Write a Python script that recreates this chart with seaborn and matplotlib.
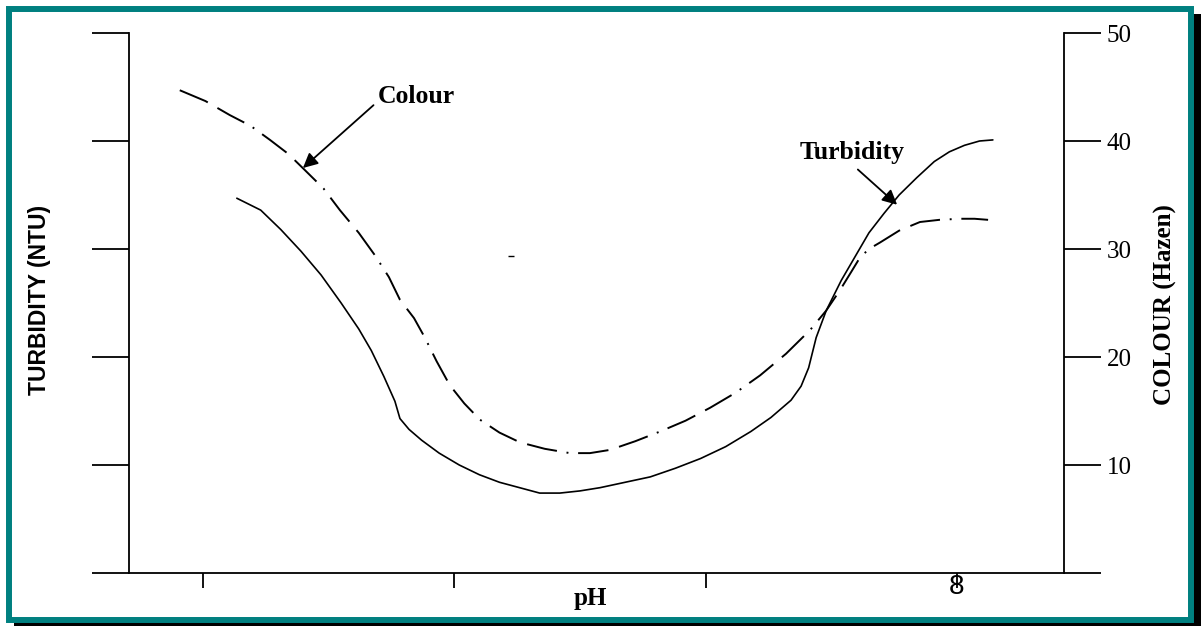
import numpy as np
import pandas as pd
import seaborn as sns
import matplotlib
matplotlib.use("Agg")
import matplotlib.pyplot as plt
from matplotlib.patches import Rectangle

# pH values and readings
turb_ph = [5.135, 5.23, 5.31, 5.39, 5.47, 5.55, 5.62, 5.67, 5.72, 5.764, 5.784, 5.82, 5.87, 5.94, 6.02,
           6.10, 6.18, 6.26, 6.34, 6.42, 6.50, 6.58, 6.68, 6.78, 6.88, 6.98, 7.08, 7.18, 7.26, 7.34,
           7.38, 7.41, 7.44, 7.48, 7.54, 7.60, 7.65, 7.71, 7.77, 7.84, 7.91, 7.97, 8.03, 8.09, 8.143]
turb_val = [34.7, 33.6, 31.8, 29.8, 27.6, 25.0, 22.6, 20.6, 18.2, 15.9, 14.3, 13.3, 12.3, 11.1, 10.0,
            9.1, 8.4, 7.9, 7.4, 7.4, 7.6, 7.9, 8.4, 8.9, 9.7, 10.6, 11.7, 13.1, 14.4, 16.0,
            17.3, 19.0, 21.8, 24.3, 27.1, 29.5, 31.5, 33.3, 35.0, 36.6, 38.1, 39.0, 39.6, 40.0, 40.1]

col_ph = [4.908, 5.01, 5.107, 5.19, 5.267, 5.34, 5.406, 5.48, 5.545, 5.62, 5.685, 5.74, 5.784, 5.84,
          5.883, 5.93, 5.982, 6.04, 6.102, 6.18, 6.261, 6.36, 6.46, 6.54, 6.62, 6.72, 6.819, 6.92,
          7.018, 7.12, 7.217, 7.32, 7.416, 7.48, 7.535, 7.58, 7.614, 7.65, 7.694, 7.77, 7.853, 7.93,
          8.012, 8.07, 8.124]
col_val = [44.7, 43.7, 42.4, 41.4, 40.1, 38.8, 37.3, 35.6, 33.6, 31.5, 29.4, 27.4, 25.3, 23.6,
           21.8, 19.6, 17.4, 15.7, 14.2, 13.0, 12.1, 11.5, 11.1, 11.1, 11.4, 12.2, 13.1, 14.1,
           15.3, 16.7, 18.3, 20.3, 22.5, 24.3, 26.2, 27.9, 29.2, 30.0, 30.6, 31.7, 32.5, 32.7,
           32.8, 32.8, 32.7]

xticks = [5, 6, 7, 8]
xtick_labels = ["", "", "", "8"]
yticks = [0, 10, 20, 30, 40, 50]
right_labels = ["", "10", "20", "30", "40", "50"]

stray_ph = [6.226]
stray_val = [29.35]

sns.set_theme(style="white")
plt.rcParams["font.family"] = ["Liberation Serif", "DejaVu Serif"]
plt.rcParams["text.color"] = "black"
plt.rcParams["lines.scale_dashes"] = False

W, H = 1204, 626
fig = plt.figure(figsize=(W / 100, H / 100), dpi=100)

# framed border with drop shadow
fig.add_artist(Rectangle((14 / W, 0), (1201 - 14) / W, (626 - 14) / H, transform=fig.transFigure,
                         facecolor="black", edgecolor="none", zorder=-20))
fig.add_artist(Rectangle((9 / W, 6 / H), 1182 / W, 611 / H, transform=fig.transFigure,
                         facecolor="white", edgecolor="#008080", linewidth=4.3, zorder=-10))

ax = fig.add_axes([129 / W, 1 - 573 / H, (1064 - 129) / W, (573 - 33) / H])
ax.set_facecolor("none")

turb = pd.DataFrame({"pH": turb_ph, "val": turb_val})
col = pd.DataFrame({"pH": col_ph, "val": col_val})

sns.lineplot(data=turb, x="pH", y="val", ax=ax, color="black", linewidth=1.2, sort=False)
sns.lineplot(data=col, x="pH", y="val", ax=ax, color="black", linewidth=1.4, sort=False,
             linestyle=(0, (22, 8, 22, 7, 1.4, 7)))
ax.plot(stray_ph, stray_val, marker="_", color="black", markersize=4, linestyle="none")

ax.set_xlim(4.706, 8.426)
ax.set_ylim(0, 50)

for s in ["top", "right"]:
    ax.spines[s].set_visible(False)
for s in ["left", "bottom"]:
    ax.spines[s].set_color("black")
    ax.spines[s].set_linewidth(1.3)

ax.set_yticks(yticks)
ax.set_yticklabels([])
ax.tick_params(axis="y", direction="out", length=26.6, width=1.3, color="black", left=True)
ax.set_xticks(xticks)
ax.set_xticklabels(xtick_labels, fontfamily="Liberation Sans")
ax.tick_params(axis="x", direction="out", length=10.8, width=1.3, color="black", bottom=True,
               pad=-10, labelsize=20, labelcolor="black")

ax2 = ax.twinx()
ax2.set_ylim(0, 50)
for s in ["top", "left", "bottom"]:
    ax2.spines[s].set_visible(False)
ax2.spines["right"].set_color("black")
ax2.spines["right"].set_linewidth(1.3)
ax2.set_yticks(yticks)
ax2.set_yticklabels(right_labels)
ax2.tick_params(axis="y", direction="out", length=26.6, width=1.3, color="black", right=True,
                pad=4, labelsize=18, labelcolor="black")
ax2.grid(False)
ax.grid(False)

ax.set_xlabel("")
ax.set_ylabel("")
fig.text(40 / W, 1 - 300 / H, "TURBIDITY (NTU)", rotation=90, ha="center", va="center",
         fontfamily="Liberation Sans", fontweight="bold", fontsize=16.5, color="black")
fig.text(1165 / W, 1 - 305 / H, "COLOUR (Hazen)", rotation=90, ha="center", va="center",
         fontweight="bold", fontsize=18, color="black")
fig.text(590 / W, 1 - 599 / H, "pH", ha="center", va="center", fontweight="bold", fontsize=18,
         color="black")

ax.annotate("Colour", xy=(5.398, 37.5), xytext=(5.696, 44.1), ha="left", va="center",
            fontsize=18.5, fontweight="bold", color="black",
            arrowprops=dict(arrowstyle="-|>", color="black", lw=1.3, mutation_scale=22,
                            relpos=(0, 0.3), shrinkA=1, shrinkB=0))
ax.annotate("Turbidity", xy=(7.762, 34.1), xytext=(7.583, 38.9), ha="center", va="center",
            fontsize=18.5, fontweight="bold", color="black",
            arrowprops=dict(arrowstyle="-|>", color="black", lw=1.3, mutation_scale=22,
                            relpos=(0.5, 0), shrinkA=2, shrinkB=0))

fig.savefig("out.png", dpi=100)
